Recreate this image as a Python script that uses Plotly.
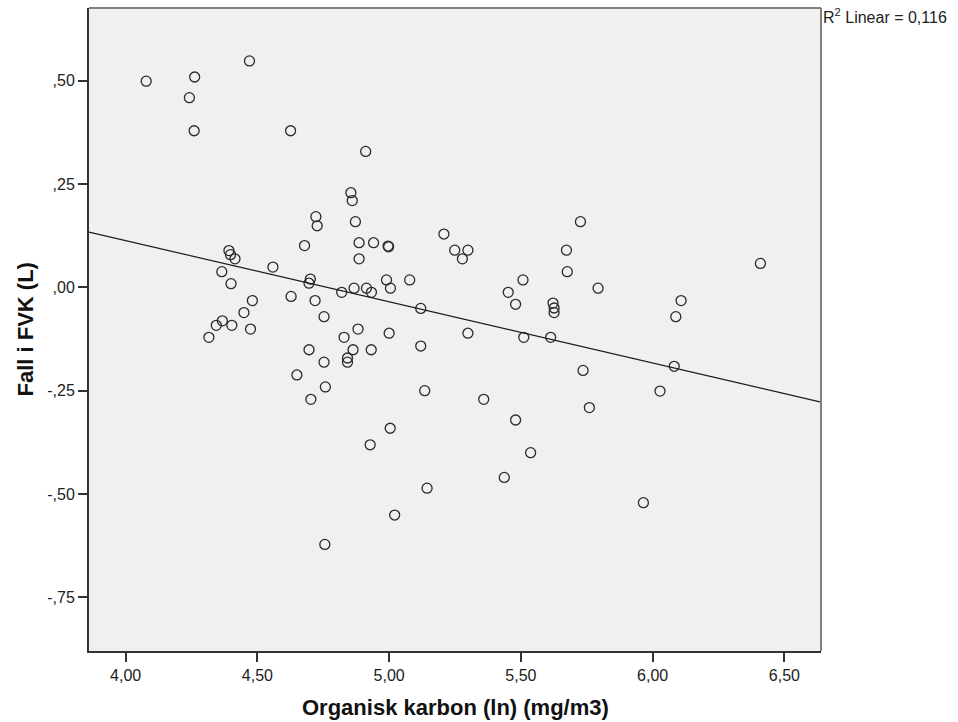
import numpy as np
import plotly.graph_objects as go

# Organisk karbon (ln) (mg/m3)
x_vals = [4.078, 4.262, 4.242, 4.260, 4.470, 4.626, 4.911, 4.855, 4.860, 4.722,
          4.727, 4.872, 5.726, 5.208, 4.679, 4.886, 4.941, 4.996, 4.998, 4.886,
          5.249, 5.299, 5.278, 5.673, 5.676, 5.793, 5.508, 5.452, 5.480, 5.622,
          5.626, 5.626, 5.078, 4.990, 5.005, 4.914, 4.867, 4.933, 4.820, 4.701,
          4.696, 4.719, 4.753, 4.882, 5.000, 4.829, 5.120, 5.299, 5.511, 5.613,
          5.120, 4.696, 4.863, 4.932, 4.842, 4.842, 4.753, 5.736, 4.758,
          4.703, 5.135, 5.359, 5.760, 5.480, 5.004, 4.928, 5.537, 5.437, 5.144,
          4.392, 4.398, 4.415, 4.559, 4.365, 4.400, 4.628, 4.481, 4.449, 4.367,
          4.344, 4.403, 4.474, 4.316, 4.650, 6.409, 6.108, 6.088, 6.082, 6.028,
          4.756, 5.021, 5.965]
# Fall i FVK (L)
y_vals = [0.499, 0.509, 0.459, 0.379, 0.548, 0.379, 0.329, 0.229, 0.210, 0.171,
          0.149, 0.159, 0.159, 0.129, 0.101, 0.108, 0.108, 0.100, 0.098, 0.069,
          0.090, 0.090, 0.069, 0.090, 0.038, -0.002, 0.018, -0.012, -0.041, -0.038,
          -0.050, -0.061, 0.018, 0.018, -0.002, -0.002, -0.002, -0.012, -0.012, 0.020,
          0.010, -0.032, -0.071, -0.101, -0.111, -0.121, -0.051, -0.111, -0.121, -0.121,
          -0.142, -0.151, -0.151, -0.151, -0.171, -0.181, -0.181, -0.201, -0.241,
          -0.271, -0.250, -0.271, -0.291, -0.321, -0.341, -0.381, -0.400, -0.460, -0.486,
          0.089, 0.079, 0.069, 0.049, 0.038, 0.009, -0.022, -0.032, -0.061, -0.081,
          -0.092, -0.092, -0.101, -0.121, -0.212, 0.058, -0.032, -0.071, -0.191, -0.251,
          -0.622, -0.551, -0.521]

x_tickvals = [4.0, 4.5, 5.0, 5.5, 6.0, 6.5]
x_ticktext = ["4,00", "4,50", "5,00", "5,50", "6,00", "6,50"]
y_tickvals = [0.5, 0.25, 0.0, -0.25, -0.5, -0.75]
y_ticktext = [",50", ",25", ",00", "-,25", "-,50", "-,75"]

x_range = [3.861, 6.639]
y_range = [-0.880, 0.676]

slope, intercept = np.polyfit(x_vals, y_vals, 1)
line_x = np.array(x_range)
line_y = intercept + slope * line_x

fig = go.Figure()
fig.add_trace(go.Scatter(
    x=x_vals, y=y_vals, mode="markers",
    marker=dict(symbol="circle-open", size=10, color="#2a2a2a", line=dict(width=1.3)),
    showlegend=False, hoverinfo="x+y"))
fig.add_trace(go.Scatter(
    x=line_x, y=line_y, mode="lines",
    line=dict(color="#1a1a1a", width=1.2), showlegend=False, hoverinfo="skip"))

font_family = "Liberation Sans, Arial, sans-serif"
fig.update_layout(
    width=958, height=722,
    margin=dict(l=89, r=137, t=8, b=71),
    paper_bgcolor="white", plot_bgcolor="#f0f0f0",
    font=dict(family=font_family, size=16, color="#222"),
    xaxis=dict(range=x_range, tickvals=x_tickvals, ticktext=x_ticktext,
               showgrid=False, zeroline=False, showline=True, linecolor="#333", linewidth=2,
               mirror=False, ticks="outside", ticklen=9, tickcolor="#333", tickwidth=2,
               tickfont=dict(size=16, color="#222")),
    yaxis=dict(range=y_range, tickvals=y_tickvals, ticktext=y_ticktext,
               showgrid=False, zeroline=False, showline=True, linecolor="#333", linewidth=2,
               mirror=False, ticks="outside", ticklen=9, tickcolor="#333", tickwidth=2,
               tickfont=dict(size=16, color="#222")),
    shapes=[
        dict(type="line", xref="paper", yref="paper", x0=0, x1=1, y0=1, y1=1,
             line=dict(color="#808080", width=2)),
        dict(type="line", xref="paper", yref="paper", x0=1, x1=1, y0=0, y1=1,
             line=dict(color="#808080", width=2)),
    ],
    annotations=[
        dict(xref="paper", yref="paper", x=1, y=1, xanchor="left", yanchor="top",
             xshift=0, yshift=4, showarrow=False,
             text="R<sup>2</sup> Linear = 0,116", font=dict(size=16, color="#222")),
        dict(xref="paper", yref="paper", x=0.5, y=0, xanchor="center", yanchor="middle",
             yshift=-56, showarrow=False,
             text="<b>Organisk karbon (ln) (mg/m3)</b>", font=dict(size=22, color="#111")),
        dict(xref="paper", yref="paper", x=0, y=0.5, xanchor="center", yanchor="middle",
             xshift=-64, showarrow=False, textangle=-90,
             text="<b>Fall i FVK (L)</b>", font=dict(size=22, color="#111")),
    ],
)

fig.write_html("out.html")
